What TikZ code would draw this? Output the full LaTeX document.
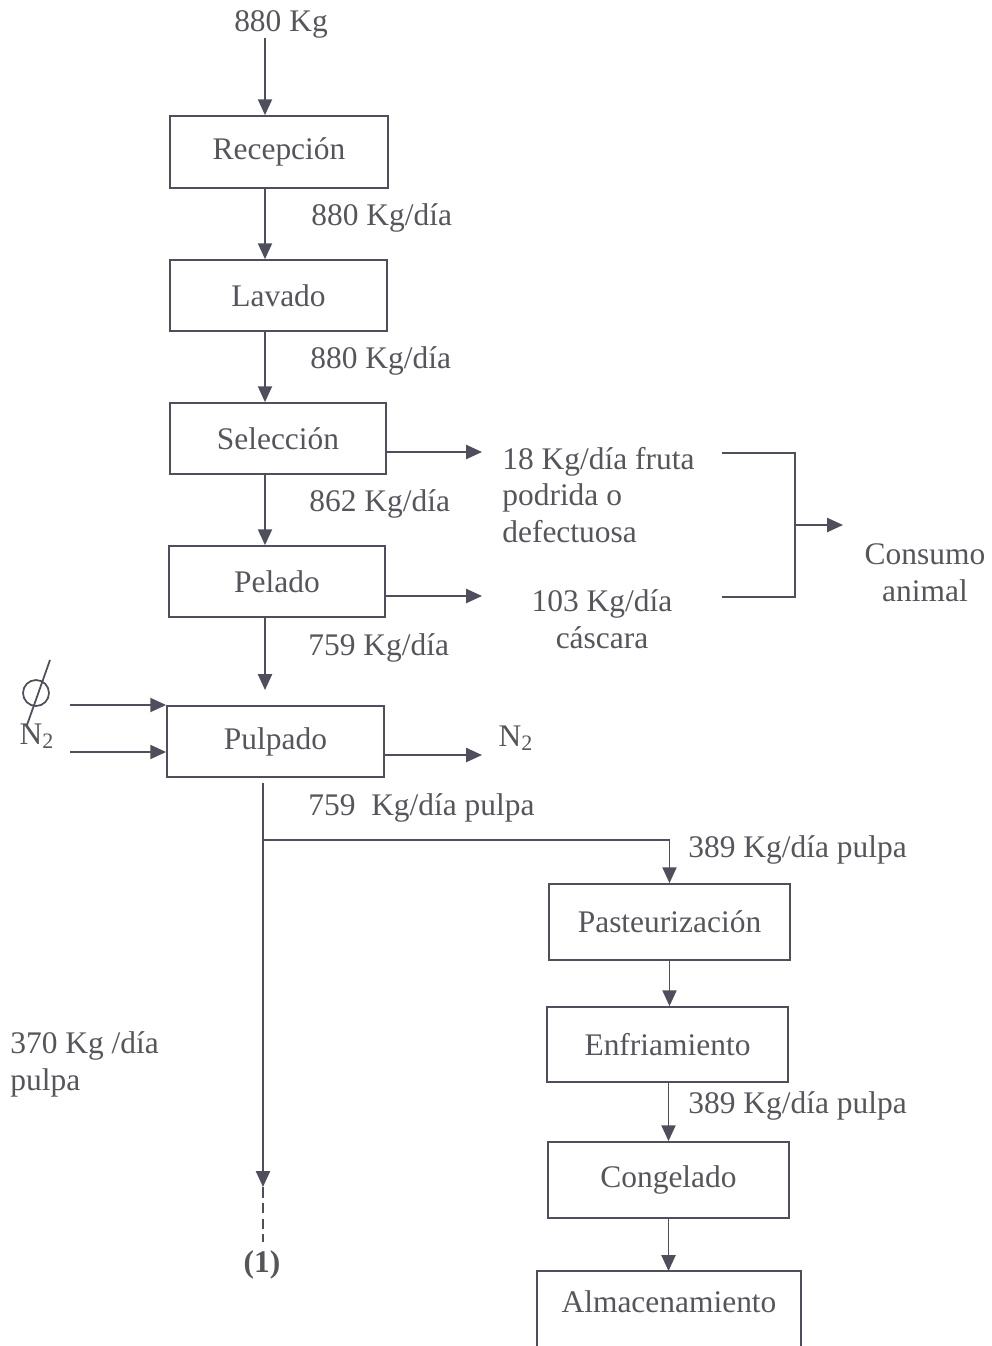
\documentclass[tikz,border=0pt]{standalone}
\usepackage{fontspec}
\setmainfont{Liberation Serif}
\usetikzlibrary{arrows.meta,calc}
\definecolor{ink}{RGB}{78,78,92}
\definecolor{txt}{RGB}{85,85,92}
\begin{document}
\begin{tikzpicture}[x=0.02cm,y=-0.02cm,
  every node/.style={text=txt, font=\fontsize{17.9}{21}\selectfont, inner sep=0pt},
  box/.style 2 args={draw=ink, line width=1pt, minimum width=#1*0.02cm, minimum height=#2*0.02cm},
  lbl/.style={align=left},
  line/.style={draw=ink, line width=1pt},
  arr/.style={line, -{Triangle[length=9pt,width=8pt]}}]
\useasboundingbox (0,0) rectangle (991,1346);
% boxes
\node[box={218}{72}] (rec) at (279,152) {Recepción};
\node[box={217}{71}] (lav) at (278.5,295.5) {Lavado};
\node[box={216}{71}] (sel) at (278,438.5) {Selección};
\node[box={216}{71}] (pel) at (277,581.5) {Pelado};
\node[box={217}{71}] (pul) at (275.5,741.5) {Pulpado};
\node[box={241}{76}] (pas) at (669.5,922) {Pasteurización};
\node[box={241}{75}] (enf) at (667.5,1044.5) {Enfriamiento};
\node[box={241}{76}] (con) at (668.5,1180) {Congelado};
\node (alm) at (669,1302) {Almacenamiento};
\coordinate (almtop) at (668.5,1271);
\draw[line] (537,1350) |- (801,1271) -- (801,1350);
% main line
\coordinate (mx) at (265,0);
\node (in) at (281,24) {880 Kg};
\draw[arr] (in.south -| mx) -- (rec.north -| mx);
\draw[arr] (rec.south -| mx) -- (lav.north -| mx);
\node[anchor=west] (l1) at (311,218) {880 Kg/día};
\draw[arr] (lav.south -| mx) -- (sel.north -| mx);
\node[anchor=west] (l2) at (310,361) {880 Kg/día};
\draw[arr] (sel.south -| mx) -- (pel.north -| mx);
\node[anchor=west] (l3) at (309,504) {862 Kg/día};
\coordinate (pultip) at (265,690);
\draw[arr] (pel.south -| mx) -- (pultip);
\node[anchor=west] (l4) at (308,648) {759 Kg/día};
% side outputs
\node[lbl, anchor=west] (t18) at (502,495) {18 Kg/día fruta\\podrida o\\defectuosa};
\coordinate (t18in) at (482,452);
\draw[arr] (sel.east |- t18in) -- (t18in);
\node[align=center] (t103) at (602,619) {103 Kg/día\\cáscara};
\coordinate (t103in) at (482,596);
\draw[arr] (pel.east |- t103in) -- (t103in);
% bracket
\coordinate (b1) at (722,453);
\coordinate (b2) at (795,453);
\coordinate (b3) at (795,597);
\coordinate (b4) at (722,597);
\coordinate (bm) at (795,525);
\coordinate (bt) at (843,525);
\draw[line] (b1) -- (b2) -- (b3) -- (b4);
\draw[arr] (bm) -- (bt);
\node[align=center] (cons) at (925,573) {Consumo\\animal};
% Pulpado inputs
\coordinate (ia) at (70,705);
\coordinate (ib) at (70,752);
\draw[arr] (ia) -- (ia -| pul.west);
\draw[arr] (ib) -- (ib -| pul.west);
\node (phi) at (36,693) {};
\draw[line] (phi) circle (13);
\draw[line] (50,660) -- (27,725);
\node (n2l) at (37,736) {N\textsubscript{2}};
\coordinate (outn) at (482,755);
\draw[arr] (pul.east |- outn) -- (outn);
\node (n2r) at (516,738) {N\textsubscript{2}};
% below pulpado
\coordinate (pbot) at (263,783);
\coordinate (split) at (263,840);
\coordinate (ptip) at (263,1187);
\draw[arr] (pbot) -- (ptip);
\node[font=\fontsize{17.9}{21}\selectfont\bfseries] (one) at (262,1265) {(1)};
\draw[line, dash pattern=on 6pt off 3pt] (ptip) -- (263,1242);
\node[anchor=west] (l5) at (308,808) {759~ Kg/día pulpa};
\draw[arr] (split) -| (pas.north);
\node[anchor=west] (l6) at (688,850) {389 Kg/día pulpa};
\draw[arr] (pas.south) -- (pas.south |- enf.north);
\draw[arr] (enf.south -| con.north) -- (con.north);
\node[anchor=west] (l7) at (688,1106) {389 Kg/día pulpa};
\draw[arr] (con.south) -- (almtop);
\node[lbl, anchor=west] (l8) at (10,1064) {370 Kg /día\\pulpa};
\end{tikzpicture}
\end{document}
